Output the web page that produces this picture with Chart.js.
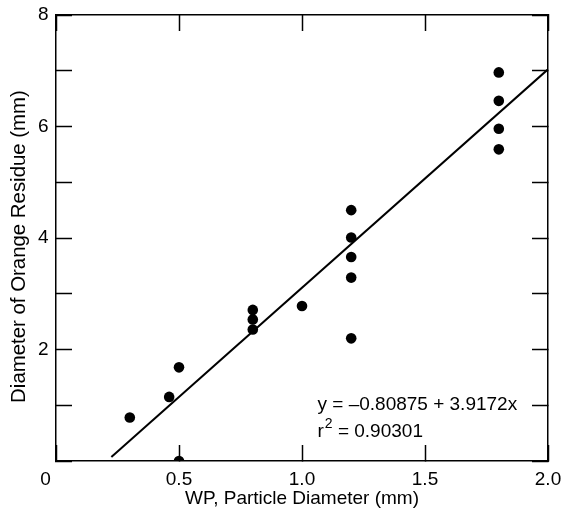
<!DOCTYPE html>
<html>
<head>
<meta charset="utf-8">
<script src="https://cdn.jsdelivr.net/npm/chart.js@4/dist/chart.umd.min.js"></script>
<style>
  html, body { margin: 0; padding: 0; background: #fff; }
  #wrap { width: 563px; height: 510px; position: relative; }
</style>
</head>
<body>
<div id="wrap"><canvas id="chart"></canvas></div>
<script>
// measured points: particle diameter vs residue diameter
const particleDiameter = [0.3, 0.46, 0.5, 0.5, 0.8, 0.8, 0.8, 1.0, 1.2, 1.2, 1.2, 1.2, 1.2, 1.8, 1.8, 1.8, 1.8];
const residueDiameter  = [0.78, 1.15, 1.68, 0.0, 2.71, 2.54, 2.36, 2.78, 2.2, 3.29, 3.66, 4.01, 4.5, 6.97, 6.46, 5.96, 5.59];

// regression from the annotation
const fitIntercept = -0.80875;
const fitSlope = 3.9172;
const fitRange = [0.225, 2.0];
const fitText = ['y = \u20130.80875 + 3.9172x', 'r', '2', ' = 0.90301'];

const xTicks = [0, 0.5, 1.0, 1.5, 2.0];
const yTickLabels = ['2', '4', '6', '8'];

const FONT = '"Liberation Sans", Arial, Helvetica, sans-serif';
const points = particleDiameter.map((x, i) => ({ x: x, y: residueDiameter[i] }));
const fitLine = fitRange.map(x => ({ x: x, y: fitIntercept + fitSlope * x }));

// equation text in lower right
const equationPlugin = {
    id: 'equation',
    afterDatasetsDraw(chart) {
        const { ctx, scales } = chart;
        const x0 = scales.x.getPixelForValue(1.063);
        const y1 = scales.y.getPixelForValue(1.0) + 5;
        const y2 = y1 + 27;
        ctx.save();
        ctx.fillStyle = '#000';
        ctx.textBaseline = 'alphabetic';
        ctx.textAlign = 'left';
        ctx.font = '19px ' + FONT;
        ctx.fillText(fitText[0], x0, y1);
        ctx.fillText(fitText[1], x0, y2);
        let x = x0 + ctx.measureText(fitText[1]).width + 1;
        ctx.font = '14px ' + FONT;
        ctx.fillText(fitText[2], x, y2 - 9);
        x += ctx.measureText(fitText[2]).width;
        ctx.font = '19px ' + FONT;
        ctx.fillText(fitText[3], x, y2);
        ctx.restore();
    }
};

const inwardGrid = {
    drawOnChartArea: false,
    drawTicks: true,
    tickLength: -16,
    tickWidth: 1.5,
    tickColor: '#000'
};
const frame = { display: true, color: '#000', width: 1.5 };

// pin each axis box to a fixed size so the plot frame lands where it should
function pinSize(size) {
    return (s) => {
        if (s.isHorizontal()) s.height = size; else s.width = size;
        s.paddingLeft = 0;
        s.paddingRight = 0;
        s.paddingTop = 0;
        s.paddingBottom = 0;
    };
}

new Chart(document.getElementById('chart'), {
    type: 'scatter',
    data: {
        datasets: [
            {
                data: points,
                backgroundColor: '#000',
                borderColor: '#000',
                pointRadius: 5.3,
                pointHoverRadius: 5.3,
                borderWidth: 0
            },
            {
                data: fitLine,
                showLine: true,
                borderColor: '#000',
                borderWidth: 2,
                pointRadius: 0,
                fill: false
            }
        ]
    },
    options: {
        responsive: true,
        maintainAspectRatio: false,
        animation: false,
        layout: { padding: 0 },
        plugins: {
            legend: { display: false },
            tooltip: { enabled: false }
        },
        scales: {
            x: {
                type: 'linear',
                position: 'bottom',
                min: 0,
                max: 2,
                afterBuildTicks: (s) => { s.ticks = xTicks.map(v => ({ value: v })); },
                afterFit: pinSize(49),
                grid: inwardGrid,
                border: frame,
                ticks: {
                    color: '#000',
                    padding: 23.6,
                    maxRotation: 0,
                    font: { size: 19, family: FONT },
                    callback: (v) => v === 0 ? '0    ' : v.toFixed(1)
                },
                title: {
                    display: true,
                    text: 'WP, Particle Diameter (mm)',
                    color: '#000',
                    padding: { top: 0, bottom: 0 },
                    font: { size: 19, family: FONT }
                }
            },
            x2: {
                type: 'linear',
                position: 'top',
                min: 0,
                max: 2,
                afterBuildTicks: (s) => { s.ticks = xTicks.map(v => ({ value: v })); },
                afterFit: pinSize(15),
                grid: inwardGrid,
                border: frame,
                ticks: { display: false }
            },
            y: {
                type: 'linear',
                position: 'left',
                min: 0,
                max: 8,
                afterFit: pinSize(56),
                grid: inwardGrid,
                border: frame,
                ticks: {
                    stepSize: 1,
                    color: '#000',
                    padding: 23.5,
                    font: { size: 19, family: FONT },
                    callback: (v) => yTickLabels.includes(String(v)) ? String(v) : ''
                },
                title: {
                    display: true,
                    // trailing spaces nudge the title a little below the axis centre
                    text: 'Diameter of Orange Residue (mm)   ',
                    color: '#000',
                    padding: { top: 6.8, bottom: 0 },
                    font: { size: 20.4, family: FONT }
                }
            },
            y2: {
                type: 'linear',
                position: 'right',
                min: 0,
                max: 8,
                afterFit: pinSize(15),
                grid: inwardGrid,
                border: frame,
                ticks: { display: false, stepSize: 1 }
            }
        }
    },
    plugins: [equationPlugin]
});
</script>
</body>
</html>
